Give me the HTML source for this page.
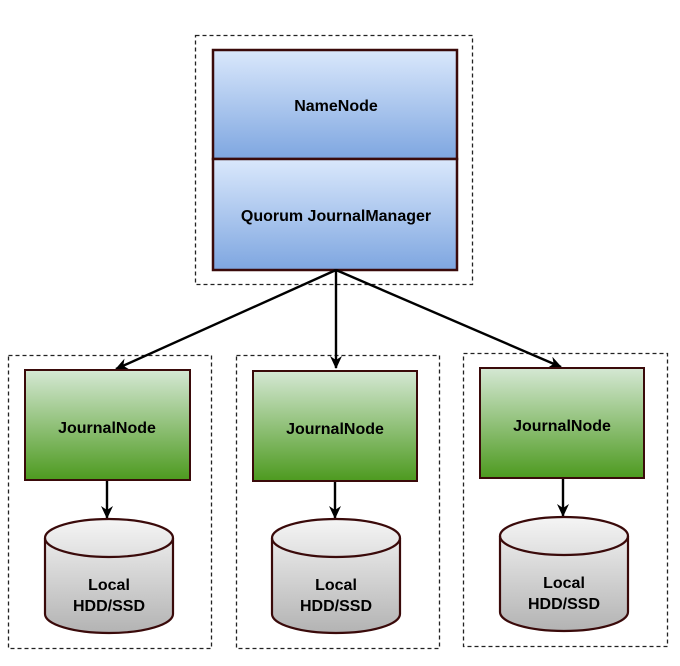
<!DOCTYPE html>
<html><head><style>body{margin:0;background:#fff}</style></head><body>
<svg width="680" height="661" xmlns="http://www.w3.org/2000/svg" font-family="Liberation Sans, sans-serif" font-weight="bold">
<defs>
<linearGradient id="b" x1="0" y1="0" x2="0" y2="1"><stop offset="0" stop-color="#dae8fc"/><stop offset="1" stop-color="#7ea6e0"/></linearGradient>
<linearGradient id="g" x1="0" y1="0" x2="0" y2="1"><stop offset="0" stop-color="#d5e8d4"/><stop offset="1" stop-color="#4d9a1f"/></linearGradient>
<linearGradient id="c" x1="0" y1="0" x2="0" y2="1"><stop offset="0" stop-color="#f5f5f5"/><stop offset="1" stop-color="#b3b3b3"/></linearGradient>
<marker id="a" markerWidth="14" markerHeight="14" refX="12" refY="7" orient="auto" markerUnits="userSpaceOnUse"><path d="M0,1 L13,7 L0,13 L4,7 z" fill="#000"/></marker>
</defs>
<g fill="none" stroke="#222" stroke-dasharray="4,3" stroke-width="1.3">
<rect x="195.5" y="35.5" width="277" height="249"/>
<rect x="8.5" y="355.5" width="203" height="293"/>
<rect x="236.5" y="355.5" width="203" height="293"/>
<rect x="463.5" y="353.5" width="204" height="293"/>
</g>
<g stroke="#3a0a0a" stroke-width="2.5">
<rect x="213" y="50" width="244" height="109" fill="url(#b)"/>
<rect x="213" y="159" width="244" height="111" fill="url(#b)"/>
</g>
<text x="336" y="111" font-size="16" text-anchor="middle">NameNode</text>
<text x="336" y="221" font-size="16" text-anchor="middle">Quorum JournalManager</text>
<g stroke="#000" stroke-width="2.4" marker-end="url(#a)">
<line x1="336" y1="270" x2="116" y2="369"/>
<line x1="336" y1="270" x2="336" y2="368"/>
<line x1="336" y1="270" x2="561" y2="367"/>
<line x1="107" y1="481" x2="107" y2="518"/>
<line x1="335" y1="482" x2="335" y2="518"/>
<line x1="563" y1="479" x2="563" y2="516"/>
</g>
<g stroke="#3a0a0a" stroke-width="2">
<rect x="25" y="370" width="165" height="110" fill="url(#g)"/>
<rect x="253" y="371" width="164" height="110" fill="url(#g)"/>
<rect x="480" y="368" width="164" height="110" fill="url(#g)"/>
</g>
<text x="107" y="433" font-size="16" text-anchor="middle">JournalNode</text>
<text x="335" y="434" font-size="16" text-anchor="middle">JournalNode</text>
<text x="562" y="431" font-size="16" text-anchor="middle">JournalNode</text>
<g stroke="#3a0a0a" stroke-width="2.2" fill="url(#c)">
<path d="M45,538 A64,19 0 0 1 173,538 L173,614 A64,19 0 0 1 45,614 Z"/>
<path d="M45,538 A64,19 0 0 0 173,538" fill="none"/>
<path d="M272,538 A64,19 0 0 1 400,538 L400,614 A64,19 0 0 1 272,614 Z"/>
<path d="M272,538 A64,19 0 0 0 400,538" fill="none"/>
<path d="M500,536 A64,19 0 0 1 628,536 L628,612 A64,19 0 0 1 500,612 Z"/>
<path d="M500,536 A64,19 0 0 0 628,536" fill="none"/>
</g>
<g font-size="16" text-anchor="middle">
<text x="109" y="590">Local</text><text x="109" y="611">HDD/SSD</text>
<text x="336" y="590">Local</text><text x="336" y="611">HDD/SSD</text>
<text x="564" y="588">Local</text><text x="564" y="609">HDD/SSD</text>
</g>
</svg>
</body></html>
